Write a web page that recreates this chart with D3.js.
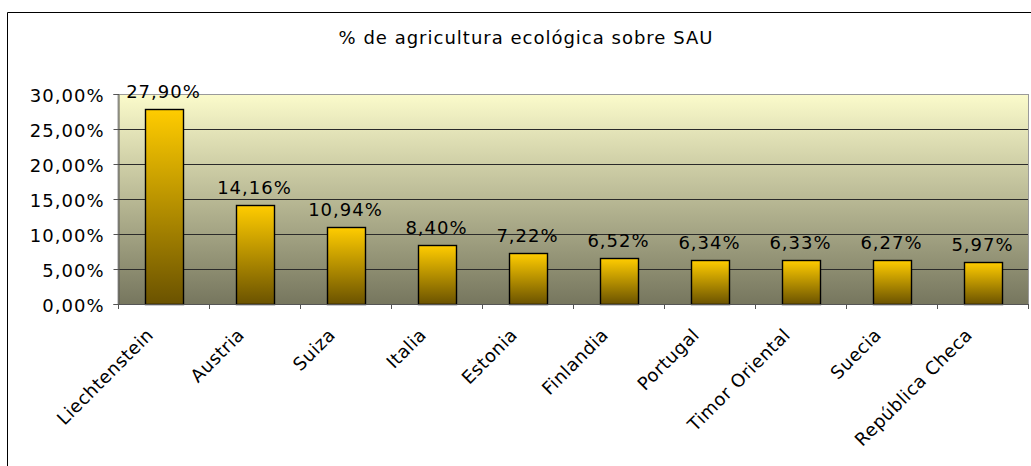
<!DOCTYPE html>
<html>
<head>
<meta charset="utf-8">
<script src="https://cdn.jsdelivr.net/npm/d3@7"></script>
<style>
  html, body { margin: 0; padding: 0; background: #fff; overflow: hidden; }
  svg { display: block; font-family: "DejaVu Sans", Verdana, sans-serif; }
</style>
</head>
<body>
<svg id="chart" width="1031" height="466"></svg>
<script>
const categories = ["Liechtenstein", "Austria", "Suiza", "Italia", "Estonia", "Finlandia", "Portugal", "Timor Oriental", "Suecia", "República Checa"];
const values = [27.90, 14.16, 10.94, 8.40, 7.22, 6.52, 6.34, 6.33, 6.27, 5.97];
const yTicks = [0, 5, 10, 15, 20, 25, 30];
const subtitle = "% de agricultura ecológica sobre SAU";

const fmt = v => v.toFixed(2).replace(".", ",") + "%";

const svg = d3.select("#chart");
const defs = svg.append("defs");

const bg = defs.append("linearGradient").attr("id", "bgGrad").attr("x1", 0).attr("y1", 0).attr("x2", 0).attr("y2", 1);
bg.append("stop").attr("offset", "0%").attr("stop-color", "#fbfbcb");
bg.append("stop").attr("offset", "100%").attr("stop-color", "#76765e");

const barG = defs.append("linearGradient").attr("id", "barGrad").attr("x1", 0).attr("y1", 0).attr("x2", 0).attr("y2", 1);
barG.append("stop").attr("offset", "0%").attr("stop-color", "#ffcc00");
barG.append("stop").attr("offset", "100%").attr("stop-color", "#6a5200");

// chart border (left and top edges visible; right/bottom lie outside the view)
svg.append("path").attr("d", "M7.5,470 L7.5,12.5 L1031,12.5")
  .attr("fill", "none").attr("stroke", "#000").attr("stroke-width", 1);

const plot = { left: 118, right: 1028, top: 94, bottom: 304 };

const x = d3.scaleBand().domain(categories).range([plot.left, plot.right]).paddingInner(0).paddingOuter(0);
const y = d3.scaleLinear().domain([0, 30]).range([plot.bottom, plot.top]);

// subtitle
svg.append("text").attr("x", 526).attr("y", 44).attr("text-anchor", "middle")
  .attr("font-size", 18).attr("letter-spacing", 1).attr("fill", "#000").text(subtitle);

// plot background
svg.append("rect").attr("x", plot.left).attr("y", plot.top + 0.5)
  .attr("width", plot.right - plot.left + 0.5).attr("height", plot.bottom - plot.top)
  .attr("fill", "url(#bgGrad)").attr("stroke", "#9a9a9a").attr("stroke-width", 1);

// gridlines
svg.append("g").selectAll("line").data(yTicks.filter(t => t > 0 && t < 30)).join("line")
  .attr("x1", plot.left).attr("x2", plot.right)
  .attr("y1", d => Math.round(y(d)) + 0.5).attr("y2", d => Math.round(y(d)) + 0.5)
  .attr("stroke", "#2a2a2a").attr("stroke-width", 1);

// bars
const bw = 38;
svg.append("g").selectAll("rect").data(values).join("rect")
  .attr("x", (d, i) => Math.round(x(categories[i]) + x.bandwidth() / 2 - bw / 2) + 0.5)
  .attr("y", d => Math.round(y(d)) + 0.5)
  .attr("width", bw)
  .attr("height", d => Math.round(y(0)) - Math.round(y(d)))
  .attr("fill", "url(#barGrad)")
  .attr("stroke", "#000").attr("stroke-width", 1.4);

// value labels
svg.append("g").selectAll("text").data(values).join("text")
  .attr("x", (d, i) => x(categories[i]) + x.bandwidth() / 2)
  .attr("y", d => y(d) - 11)
  .attr("text-anchor", "middle").attr("font-size", 18).attr("letter-spacing", 1).attr("fill", "#000")
  .text(d => fmt(d));

// y axis
const yAxis = d3.axisLeft(y).tickValues(yTicks).tickSize(5).tickPadding(9).tickFormat(d => d.toFixed(2).replace(".", ",") + "%");
const ya = svg.append("g").attr("transform", `translate(${plot.left + 0.5},0)`).call(yAxis);
ya.select(".domain").attr("stroke", "#555");
ya.selectAll(".tick line").attr("stroke", "#555");
ya.selectAll("text").attr("font-size", 18).attr("letter-spacing", 1).attr("dy", "0.42em")
  .attr("fill", "#000").attr("font-family", "DejaVu Sans, Verdana, sans-serif");

// x axis
const xTickPos = categories.map(c => x(c)).concat([plot.right]);
const xa = svg.append("g");
xa.append("line").attr("x1", plot.left).attr("x2", plot.right)
  .attr("y1", plot.bottom + 0.5).attr("y2", plot.bottom + 0.5).attr("stroke", "#555");
xa.selectAll("line.tk").data(xTickPos).join("line").attr("class", "tk")
  .attr("x1", d => Math.round(d) + 0.5).attr("x2", d => Math.round(d) + 0.5)
  .attr("y1", plot.bottom).attr("y2", plot.bottom + 5).attr("stroke", "#555");
xa.selectAll("text").data(categories).join("text")
  .attr("transform", d => `translate(${x(d) + x.bandwidth() / 2 - 9},${plot.bottom + 32}) rotate(-45)`)
  .attr("text-anchor", "end")
  .attr("font-size", 18).attr("letter-spacing", 0.5).attr("fill", "#000")
  .text(d => d);
</script>
</body>
</html>
